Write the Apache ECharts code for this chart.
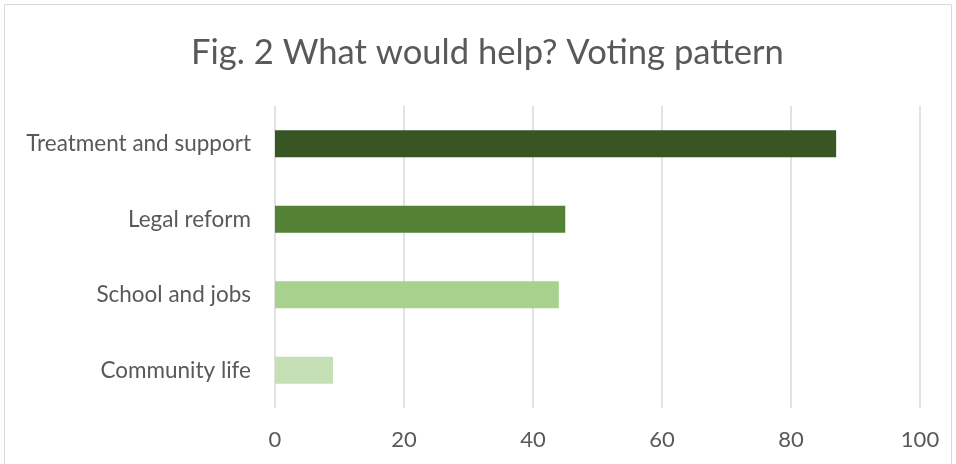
<!DOCTYPE html>
<html><head><meta charset="utf-8">
<script src="https://cdn.jsdelivr.net/npm/echarts@6/dist/echarts.min.js"></script>
<style>html,body{margin:0;padding:0;background:#fff}#c{width:956px;height:464px}</style>
</head><body><div id="c"></div>
<script>
const titleText = 'Fig. 2 What would help? Voting pattern';
const categories = ['Treatment and support', 'Legal reform', 'School and jobs', 'Community life'];
const values = [87, 45, 44, 9];
const barColors = ['#375623', '#548235', '#A9D18E', '#C5E0B4'];
const xTicks = [0, 20, 40, 60, 80, 100];

const chart = echarts.init(document.getElementById('c'), null, {renderer: 'canvas'});
const font = 'Lato, Open Sans, sans-serif';
chart.setOption({
  animation: false,
  backgroundColor: '#fff',
  graphic: [{type: 'rect', shape: {x: 4.5, y: 4.5, width: 947, height: 480},
    style: {fill: 'none', stroke: '#d9d9d9', lineWidth: 1}, silent: true}],
  title: {text: titleText, left: 186, top: 30,
    textStyle: {fontFamily: font, fontSize: 34.6, fontWeight: 'normal', color: '#595959'}},
  grid: {left: 275, right: 36, top: 106, bottom: 56},
  xAxis: {type: 'value', min: xTicks[0], max: xTicks[xTicks.length - 1], interval: 20,
    axisLine: {show: false}, axisTick: {show: false},
    axisLabel: {fontFamily: font, fontSize: 22, color: '#595959', margin: 21},
    splitLine: {lineStyle: {color: '#d9d9d9', width: 1.5}}},
  yAxis: {type: 'category', data: categories, inverse: true,
    axisLine: {show: false}, axisTick: {show: false},
    axisLabel: {fontFamily: font, fontSize: 22.5, color: '#595959', margin: 24}},
  series: [{type: 'bar', barWidth: 27,
    data: values.map((v, i) => ({value: v, itemStyle: {color: barColors[i]}}))}]
});
</script></body></html>
